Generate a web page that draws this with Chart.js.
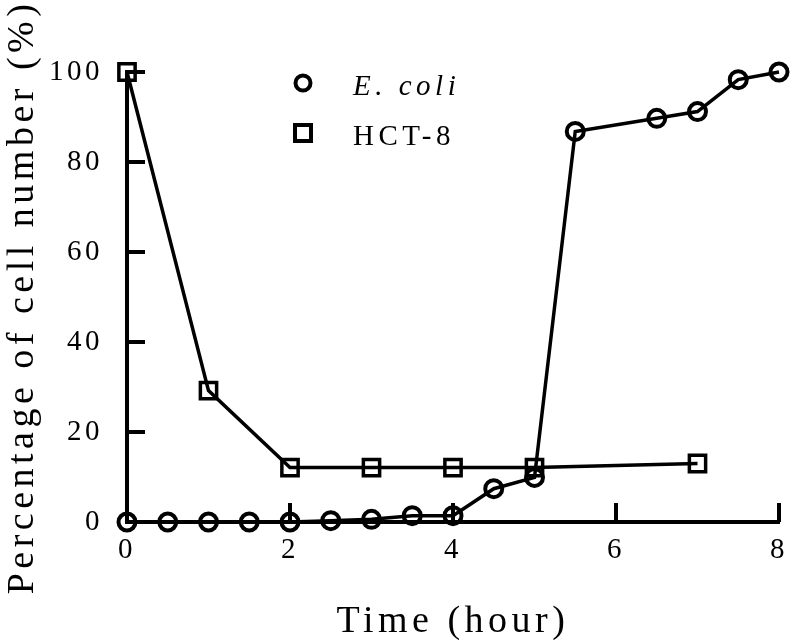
<!DOCTYPE html>
<html>
<head>
<meta charset="utf-8">
<script src="https://cdn.jsdelivr.net/npm/chart.js@4"></script>
<style>
  body { margin: 0; background: #fff; }
</style>
</head>
<body>
<canvas id="myChart" width="794" height="640"></canvas>
<script>
// E. coli: percentage of cell number over time
var ecoliTime = [0, 0.5, 1, 1.5, 2, 2.5, 3, 3.5, 4, 4.5, 5, 5.5, 6.5, 7, 7.5, 8];
var ecoliPct = [0, 0, 0, 0, 0, 0.3, 0.6, 1.4, 1.4, 7.4, 9.9, 86.8, 89.7, 91.2, 98.3, 100];

// HCT-8
var hctTime = [0, 1, 2, 3, 4, 5, 7];
var hctPct = [100, 29.2, 12.1, 12.1, 12.1, 12.1, 13];

var xTicks = [0, 2, 4, 6, 8];
var yTicks = [0, 20, 40, 60, 80, 100];

var seriesNames = ["E. coli", "HCT-8"];
var xTitle = "Time (hour)";
var yTitle = "Percentage of cell number (%)";

var serif = "'Liberation Serif', 'Times New Roman', serif";
Chart.defaults.font.family = serif;
Chart.defaults.color = "#000";

function toPoints(xs, ys) {
  return xs.map(function (v, i) { return { x: v, y: ys[i] }; });
}

// canvas letter spacing, the original text is spread out
var spacing = {
  id: "spacing",
  beforeLayout: function (chart) { chart.ctx.letterSpacing = "3.5px"; },
  beforeDraw: function (chart) { chart.ctx.letterSpacing = "3.5px"; }
};

// ticks pointing into the plot
var innerTicks = {
  id: "innerTicks",
  beforeDatasetsDraw: function (chart) {
    var ctx = chart.ctx, x = chart.scales.x, y = chart.scales.y;
    var area = chart.chartArea;
    ctx.save();
    ctx.strokeStyle = "#000";
    ctx.lineWidth = 4;
    ctx.beginPath();
    yTicks.forEach(function (v) {
      if (v === 0) return;
      var py = y.getPixelForValue(v);
      ctx.moveTo(area.left, py);
      ctx.lineTo(area.left + 18, py);
    });
    xTicks.forEach(function (v) {
      if (v === 0) return;
      var px = x.getPixelForValue(v);
      ctx.moveTo(px, area.bottom);
      ctx.lineTo(px, area.bottom - 19);
    });
    ctx.stroke();
    ctx.restore();
  }
};

// axis titles and the legend box
var labels = {
  id: "labels",
  afterDraw: function (chart) {
    var ctx = chart.ctx, area = chart.chartArea;
    ctx.save();
    ctx.fillStyle = "#000";
    ctx.letterSpacing = "4.5px";
    ctx.font = "38px " + serif;
    ctx.textAlign = "center";
    ctx.textBaseline = "alphabetic";
    ctx.fillText(xTitle, (area.left + area.right) / 2, 632);

    ctx.save();
    ctx.translate(33, (area.top + area.bottom) / 2);
    ctx.rotate(-Math.PI / 2);
    ctx.fillText(yTitle, 0, 0);
    ctx.restore();

    // legend
    ctx.strokeStyle = "#000";
    ctx.lineWidth = 4;
    ctx.beginPath();
    ctx.arc(303, 83, 7.5, 0, Math.PI * 2);
    ctx.stroke();
    ctx.strokeRect(295, 125, 16, 16);

    ctx.textAlign = "left";
    ctx.font = "italic 29px " + serif;
    ctx.fillText(seriesNames[0], 353, 95);
    ctx.font = "29px " + serif;
    ctx.fillText(seriesNames[1], 353, 145);
    ctx.restore();
  }
};

var ctx = document.getElementById("myChart").getContext("2d");
var myChart = new Chart(ctx, {
  type: "line",
  data: {
    datasets: [
      {
        label: seriesNames[0],
        data: toPoints(ecoliTime, ecoliPct),
        borderColor: "#000",
        borderWidth: 3.5,
        tension: 0,
        pointStyle: "circle",
        pointRadius: 8.5,
        pointBorderWidth: 4,
        pointBorderColor: "#000",
        pointBackgroundColor: "rgba(0,0,0,0)",
        clip: false,
      },
      {
        label: seriesNames[1],
        data: toPoints(hctTime, hctPct),
        borderColor: "#000",
        borderWidth: 3.5,
        tension: 0,
        pointStyle: "rect",
        pointRadius: 11.5,
        pointBorderWidth: 3.5,
        pointBorderColor: "#000",
        pointBackgroundColor: "rgba(0,0,0,0)",
        clip: false,
      },
    ],
  },
  options: {
    responsive: false,
    animation: false,
    layout: { padding: { top: 72, right: 13, left: 0, bottom: 0 } },
    plugins: {
      legend: { display: false },
      tooltip: { enabled: false },
    },
    scales: {
      x: {
        type: "linear",
        min: 0,
        max: 8,
        afterBuildTicks: function (scale) {
          scale.ticks = xTicks.map(function (v) { return { value: v }; });
        },
        grid: { display: false, drawTicks: false, tickLength: 0 },
        border: { display: true, color: "#000", width: 4 },
        ticks: { font: { size: 29 }, padding: 11, maxRotation: 0 },
        afterFit: function (scale) {
          scale.height = 118;
          scale.paddingLeft = 0;
          scale.paddingRight = 0;
        },
      },
      y: {
        min: 0,
        max: 100,
        afterBuildTicks: function (scale) {
          scale.ticks = yTicks.map(function (v) { return { value: v }; });
        },
        grid: { display: false, drawTicks: false, tickLength: 0 },
        border: { display: true, color: "#000", width: 4 },
        ticks: { font: { size: 29 }, padding: 24 },
        afterFit: function (scale) {
          scale.width = 127;
          scale.paddingTop = 0;
          scale.paddingBottom = 0;
        },
      },
    },
  },
  plugins: [spacing, innerTicks, labels],
});
</script>
</body>
</html>
